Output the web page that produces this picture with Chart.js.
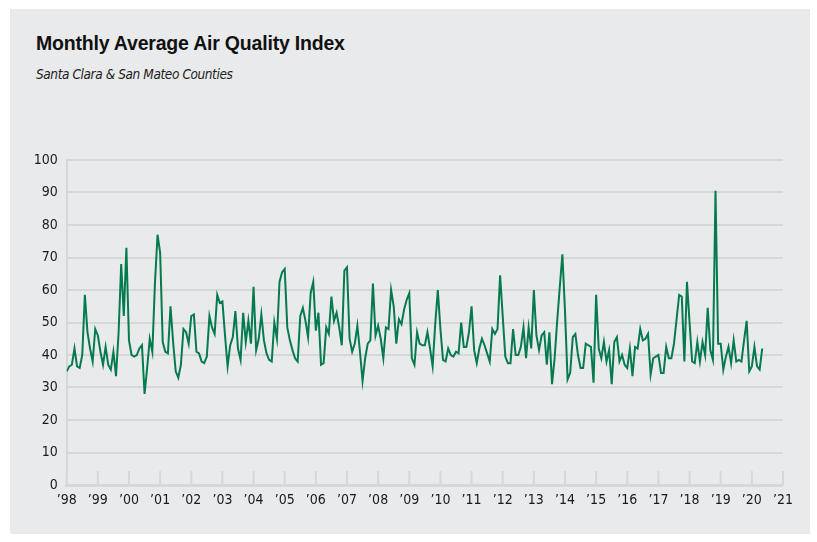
<!DOCTYPE html>
<html>
<head>
<meta charset="utf-8">
<script src="https://cdn.jsdelivr.net/npm/chart.js@4"></script>
<style>
  html, body { margin: 0; padding: 0; background: #ffffff; }
  #panel {
    position: absolute; left: 10px; top: 9px; width: 800px; height: 525px;
    background: #e9eaeb;
  }
  #titulo {
    position: absolute; left: 36px; top: 32px; margin: 0;
    font: bold 19.5px "Liberation Sans", Arial, sans-serif; color: #111;
    letter-spacing: -0.2px;
  }
  #subtitulo {
    position: absolute; left: 36px; top: 66px; margin: 0;
    font: italic 13.5px "Liberation Sans Narrow", "DejaVu Sans Condensed", "Liberation Sans", sans-serif; color: #222;
    letter-spacing: -0.4px;
  }
  #caja { position: absolute; left: 10px; top: 141px; width: 790px; height: 380px; }
</style>
</head>
<body>
<div id="panel"></div>
<h1 id="titulo">Monthly Average Air Quality Index</h1>
<p id="subtitulo">Santa Clara &amp; San Mateo Counties</p>
<div id="caja"><canvas id="grafica"></canvas></div>

<script>
// =============================================
// DATOS
// =============================================

// primer mes de la serie (enero 1998)
const anioInicio = 1998;
const anioFin = 2021;

// promedio mensual del AQI, ene 1998 - may 2020
const valoresAQI = [
  35, 36.5, 37, 42, 36.5, 36, 40, 58.5, 47, 42, 38, 48,
  46, 41, 37, 42.5, 37, 35.5, 41, 33.5, 47, 68, 52, 73,
  44.5, 40, 39.5, 40, 42, 43, 28, 36, 45, 41, 62, 77,
  71.5, 44, 41, 40.5, 55, 44, 35, 33, 37, 48, 47, 43.5,
  52, 52.5, 41, 40.5, 38, 37.5, 39.5, 52, 48.5, 46.5, 58.5, 56,
  56.5, 46, 36.5, 43, 45.5, 53.5, 42, 38.5, 53, 44, 50.5, 43.5,
  61, 41.5, 45, 52.5, 44.5, 40.5, 38.5, 38, 50, 45, 62.5, 65.5,
  66.5, 48.5, 44.5, 41.5, 39, 38, 52, 54.5, 50.5, 45.5, 59, 62.5,
  47.5, 53, 37, 37.5, 48.5, 46.5, 58, 50.5, 53, 48.5, 43, 66,
  67, 45, 41, 43.5, 49, 41, 32, 39, 43.5, 44.5, 62, 46,
  49, 45, 39, 48.5, 48, 60, 55, 43.5, 51, 49.5, 54, 57,
  59, 39, 37, 47, 43.5, 43, 43, 47, 42, 36.5, 49.5, 60,
  48, 38.5, 38, 42, 40, 39.5, 41, 40.5, 50, 42.5, 42.5, 47,
  55, 41.5, 37.5, 42, 45, 43, 40.5, 38, 48, 46.5, 48, 64.5,
  52, 39.5, 37.5, 37.5, 48, 40, 40, 42.5, 48.5, 39, 48.5, 42,
  60, 46, 41.5, 46, 47, 37, 47, 31, 39, 50.5, 61, 71,
  53.5, 32.5, 34.5, 45.5, 46.5, 40, 36, 36, 43.5, 43, 42.5, 31.5,
  58.5, 42, 39, 44, 38, 41.5, 31, 44, 45.5, 38, 40, 37,
  36, 42, 33.5, 42.5, 42, 48, 44.5, 45, 46.5, 34, 39, 39.5,
  40, 34.5, 34.5, 42.5, 39, 39, 43.5, 51, 58.5, 58, 38, 62.5,
  50, 38, 37.5, 44, 38, 44, 40, 54.5, 41.5, 38.5, 90.5, 43.5,
  43.5, 35.5, 39.5, 42.5, 37.5, 44.5, 38, 38.5, 38, 44.5, 50.5, 35,
  36.5, 42.5, 36.5, 35.5, 42
];

// etiquetas del eje x
const etiquetasAnios = ["\u201998", "\u201999", "\u201900", "\u201901", "\u201902", "\u201903",
  "\u201904", "\u201905", "\u201906", "\u201907", "\u201908", "\u201909", "\u201910", "\u201911",
  "\u201912", "\u201913", "\u201914", "\u201915", "\u201916", "\u201917", "\u201918", "\u201919",
  "\u201920", "\u201921"];

// etiquetas del eje y
const ticksY = [0, 10, 20, 30, 40, 50, 60, 70, 80, 90, 100];

// =============================================
// GRAFICA
// =============================================

const fuenteEjes = "'Liberation Sans Narrow', 'DejaVu Sans Condensed', 'Liberation Sans', sans-serif";
const grisRejilla = "#d6d7d9";

// marcas cortas de cada año sobre el eje x
const marcasAnios = {
  id: "marcasAnios",
  beforeDatasetsDraw(chart) {
    const escala = chart.scales.x;
    const ctx = chart.ctx;
    const abajo = chart.chartArea.bottom;
    ctx.save();
    ctx.strokeStyle = grisRejilla;
    ctx.lineWidth = 2;
    escala.ticks.forEach((t, i) => {
      const px = escala.getPixelForTick(i);
      ctx.beginPath();
      ctx.moveTo(px, abajo);
      ctx.lineTo(px, abajo - 14);
      ctx.stroke();
    });
    ctx.restore();
  }
};

document.addEventListener("DOMContentLoaded", function () {
  const puntos = valoresAQI.map((v, i) => ({ x: anioInicio + i / 12, y: v }));

  new Chart(document.getElementById("grafica"), {
    type: "line",
    data: {
      datasets: [{
        data: puntos,
        borderColor: "#067a4f",
        borderWidth: 2,
        pointRadius: 0,
        tension: 0,
        fill: false
      }]
    },
    options: {
      responsive: true,
      maintainAspectRatio: false,
      animation: false,
      layout: { padding: { top: 19, right: 12, left: 0, bottom: 0 } },
      plugins: { legend: { display: false }, tooltip: { enabled: false } },
      scales: {
        x: {
          type: "linear",
          min: anioInicio,
          max: anioFin,
          afterFit: (s) => { s.height = 36; },
          afterBuildTicks: (s) => {
            s.ticks = etiquetasAnios.map((e, i) => ({ value: anioInicio + i }));
          },
          grid: { display: false, drawTicks: false },
          border: { display: true, color: grisRejilla, width: 3 },
          ticks: {
            autoSkip: false,
            maxRotation: 0,
            padding: 7,
            color: "#1a1a1a",
            font: { family: fuenteEjes, size: 14 },
            callback: (v) => etiquetasAnios[Math.round(v) - anioInicio]
          }
        },
        y: {
          min: 0,
          max: 100,
          afterFit: (s) => { s.width = 56.7; },
          afterBuildTicks: (s) => { s.ticks = ticksY.map((v) => ({ value: v })); },
          grid: { color: grisRejilla, lineWidth: 2, drawTicks: false },
          border: { display: true, color: grisRejilla, width: 2 },
          ticks: {
            padding: 9,
            color: "#1a1a1a",
            font: { family: fuenteEjes, size: 14 }
          }
        }
      }
    },
    plugins: [marcasAnios]
  });
});
</script>
</body>
</html>
